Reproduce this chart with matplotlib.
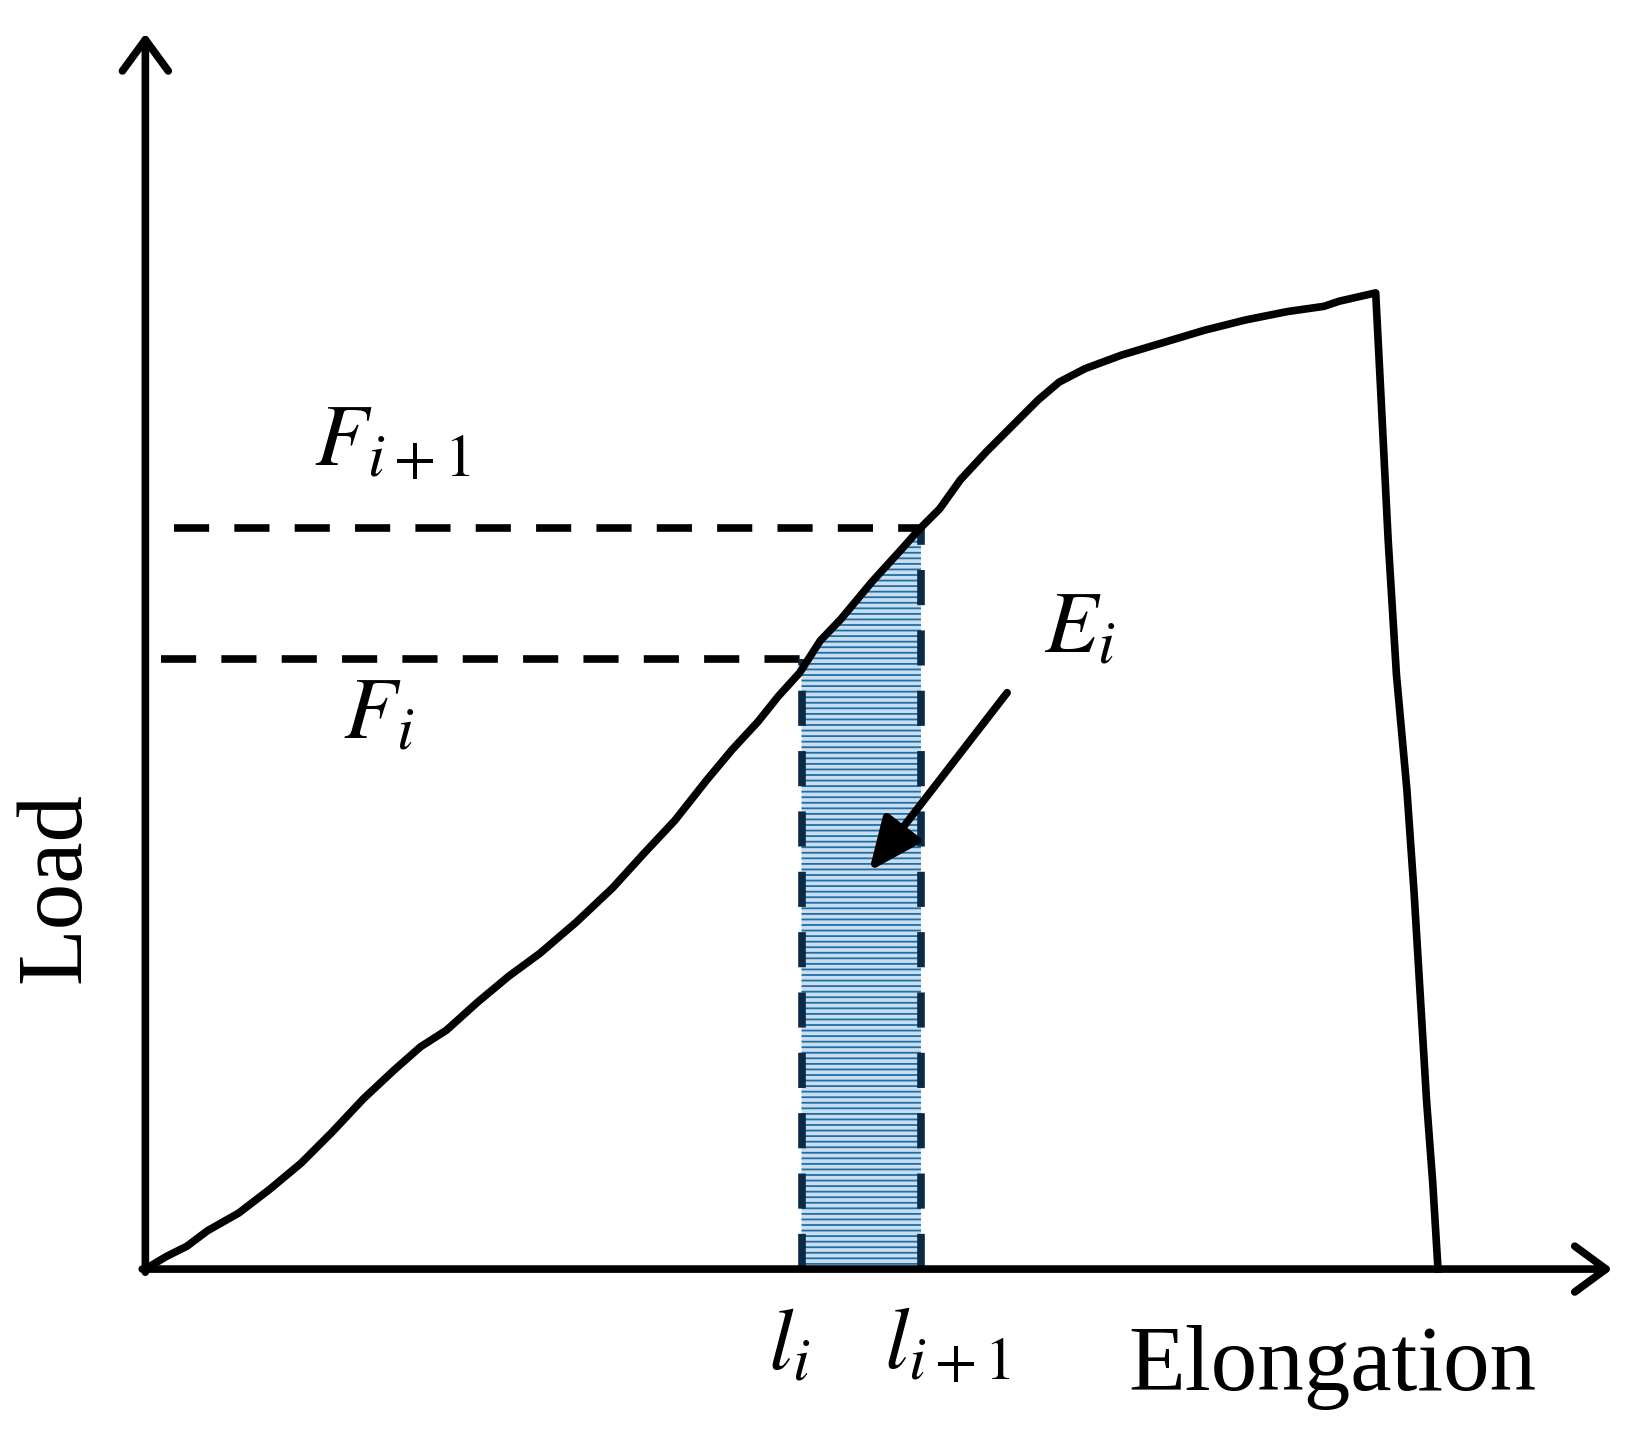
import matplotlib.pyplot as plt
import matplotlib as mpl
import numpy as np

mpl.rcParams['font.family'] = 'Liberation Serif'
mpl.rcParams['mathtext.fontset'] = 'stix'

# load-elongation curve (arbitrary units)
elong = [0, 20, 40, 60, 90, 120, 150, 180, 210, 240, 265, 290, 320, 350, 380,
         415, 450, 480, 510, 540, 565, 590, 610, 630, 650, 670, 700, 730, 745,
         765, 785, 810, 835, 860, 880, 905, 940, 980, 1020, 1060, 1100, 1135,
         1150, 1185, 1190, 1197, 1205, 1215, 1222, 1228, 1234, 1240, 1245]
load = [0, 12, 22, 37, 54, 77, 102, 132, 164, 192, 214, 230, 257, 282, 304,
        334, 367, 400, 432, 470, 500, 527, 552, 574, 605, 626, 662, 695, 712,
        732, 760, 787, 812, 837, 854, 867, 880, 892, 904, 914, 922, 927,
        932, 940, 842, 702, 572, 462, 362, 262, 162, 82, 0]

l_i, l_i1 = 632, 747          # elongation marks
F_i, F_i1 = 587, 714          # load levels
dash_start = [15, 28]         # left ends of F_i and F_{i+1} dashed lines

fig = plt.figure(figsize=(16.28, 14.29), dpi=100)
ax = fig.add_axes([0, 0, 1, 1])
ax.set_xlim(-140, 1428)
ax.set_ylim(-154, 1222)
ax.axis('off')

lw = 5.5
dash = (0, (4.6, 3.3))

# shaded energy area
xs = np.linspace(l_i, l_i1, 60)
ys = np.interp(xs, elong, load)
mpl.rcParams['hatch.color'] = '#1f6fa5'
mpl.rcParams['hatch.linewidth'] = 1.3
ax.fill_between(xs, 0, ys, facecolor='#c9ddf0', edgecolor='#1f6fa5',
                hatch='---', linewidth=0, zorder=1)

# curve
ax.plot(elong, load, color='black', lw=lw, zorder=3, solid_joinstyle='round')

# dashed guides
ax.plot([dash_start[0], l_i], [F_i, F_i], color='black', lw=lw, ls=dash, zorder=2)
ax.plot([dash_start[1], l_i1], [F_i1, F_i1], color='black', lw=lw, ls=dash, zorder=2)
ax.plot([l_i, l_i], [0, F_i], color='#0a2a45', lw=lw, ls=dash, zorder=2)
ax.plot([l_i1, l_i1], [0, np.interp(l_i1, elong, load)], color='#0a2a45', lw=lw,
        ls=dash, zorder=2)

# axes with arrows
axis_arrow = dict(arrowstyle='->,head_length=0.75,head_width=0.55',
                  lw=lw, color='black', mutation_scale=30, shrinkA=0, shrinkB=0)
ax.annotate('', xy=(1413, 0), xytext=(-3, 0), arrowprops=axis_arrow)
ax.annotate('', xy=(0, 1190), xytext=(0, -3), arrowprops=axis_arrow)

# E_i pointer
ax.annotate('', xy=(697, 383), xytext=(830, 555),
            arrowprops=dict(arrowstyle='-|>,head_length=0.8,head_width=0.35',
                            lw=lw, color='black', mutation_scale=40, shrinkA=0, shrinkB=0))

fs = 63
ax.text(238, 795, r'$F_{i+1}$', fontsize=fs, ha='center', va='center')
ax.text(225, 532, r'$F_i$', fontsize=fs, ha='center', va='center')
ax.text(900, 615, r'$E_i$', fontsize=fs, ha='center', va='center')
ax.text(620, -75, r'$l_i$', fontsize=fs, ha='center', va='center')
ax.text(773, -75, r'$l_{i+1}$', fontsize=fs, ha='center', va='center')
ax.text(1143, -95, 'Elongation', fontsize=67, ha='center', va='center')
ax.text(-85, 367, 'Load', fontsize=67, ha='center', va='center', rotation=90)

plt.savefig('out.png', dpi=100)
